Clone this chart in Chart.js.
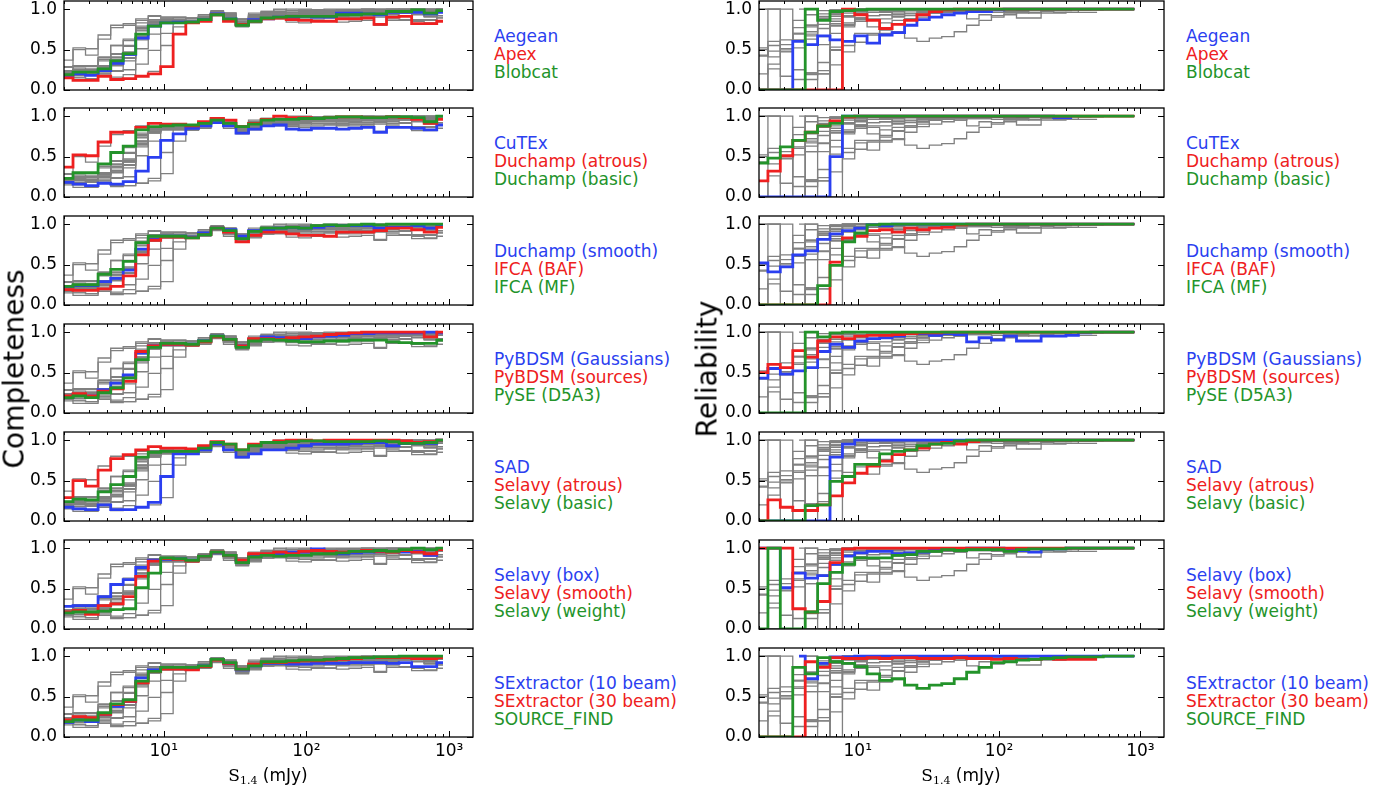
<!DOCTYPE html>
<html>
<head>
<meta charset="utf-8">
<script src="https://cdn.jsdelivr.net/npm/chart.js@4.4.1/dist/chart.umd.min.js"></script>
<style>
  body { margin: 0; background: #fff; width: 1377px; height: 789px; overflow: hidden; position: relative; font-family: "DejaVu Sans", sans-serif; }
  canvas { position: absolute; }
  .lab { position: absolute; font-size: 17px; line-height: 18px; white-space: nowrap; }
  .ytitle { position: absolute; font-size: 28px; white-space: nowrap; transform: translate(-50%, -50%) rotate(-90deg); }
  .xtitle { position: absolute; font-size: 17px; white-space: nowrap; transform: translate(-50%, -50%); }
  .xtitle .s { font-family: "DejaVu Serif", "Liberation Serif", serif; font-size: 17px; }
  .xtitle sub { font-family: "DejaVu Serif", "Liberation Serif", serif; font-size: 11px; vertical-align: -3px; }
</style>
</head>
<body>
<script>
// flux bin centres (mJy), log spaced
const BIN_CENTRES = [2.09, 2.56, 3.13, 3.84, 4.70, 5.75, 7.04, 8.62, 10.5, 12.9, 15.8, 19.4, 23.7, 29.0, 35.5,
  43.5, 53.3, 65.2, 79.8, 97.8, 120, 147, 179, 220, 269, 329, 403, 494, 604, 740, 906];

const FINDERS = ['Aegean', 'Apex', 'Blobcat', 'CuTEx', 'Duchamp (atrous)', 'Duchamp (basic)', 'Duchamp (smooth)',
  'IFCA (BAF)', 'IFCA (MF)', 'PyBDSM (Gaussians)', 'PyBDSM (sources)', 'PySE (D5A3)', 'SAD', 'Selavy (atrous)',
  'Selavy (basic)', 'Selavy (box)', 'Selavy (smooth)', 'Selavy (weight)', 'SExtractor (10 beam)',
  'SExtractor (30 beam)', 'SOURCE_FIND'];

// completeness per finder, one value per bin
const COMPLETENESS = [
  [0.18,0.20,0.18,0.24,0.33, 0.44,0.64,0.79,0.83,0.84, 0.84,0.87,0.94,0.88,0.81, 0.87,0.88,0.90,0.90,0.91, 0.90,0.90,0.95,0.95,0.94, 0.93,0.96,0.96,0.96,0.94, 0.96],
  [0.15,0.12,0.12,0.17,0.13, 0.14,0.17,0.20,0.29,0.69, 0.83,0.85,0.93,0.85,0.81, 0.85,0.88,0.89,0.87,0.86, 0.85,0.85,0.88,0.88,0.89, 0.81,0.90,0.91,0.82,0.82, 0.85],
  [0.19,0.22,0.22,0.26,0.36, 0.45,0.69,0.79,0.83,0.83, 0.84,0.87,0.93,0.88,0.80, 0.85,0.89,0.90,0.91,0.91, 0.91,0.91,0.93,0.93,0.94, 0.94,0.97,0.97,0.99,0.95, 0.98],
  [0.18,0.16,0.14,0.17,0.16, 0.19,0.32,0.49,0.70,0.78, 0.85,0.88,0.92,0.88,0.79, 0.84,0.88,0.89,0.84,0.83, 0.85,0.85,0.84,0.85,0.86, 0.80,0.86,0.86,0.85,0.83, 0.89],
  [0.37,0.52,0.51,0.68,0.80, 0.80,0.86,0.91,0.90,0.90, 0.88,0.93,0.97,0.95,0.87, 0.91,0.96,1.00,0.98,0.98, 0.97,0.98,0.99,0.99,0.98, 0.98,0.99,0.98,0.96,0.91, 0.96],
  [0.23,0.30,0.30,0.41,0.55, 0.63,0.83,0.87,0.88,0.89, 0.89,0.91,0.95,0.91,0.87, 0.90,0.95,0.96,0.96,0.97, 0.97,0.98,0.99,0.99,0.98, 0.98,0.99,0.99,0.98,0.93, 1.00],
  [0.23,0.24,0.24,0.29,0.33, 0.43,0.69,0.81,0.85,0.85, 0.84,0.89,0.95,0.93,0.85, 0.92,0.93,0.95,0.96,0.95, 0.96,0.98,0.98,0.98,0.98, 0.95,0.96,0.96,0.98,0.95, 0.98],
  [0.19,0.18,0.18,0.20,0.23, 0.36,0.62,0.80,0.84,0.84, 0.83,0.87,0.95,0.90,0.78, 0.86,0.90,0.90,0.88,0.86, 0.86,0.85,0.90,0.90,0.90, 0.92,0.95,0.95,0.93,0.90, 0.96],
  [0.23,0.25,0.25,0.38,0.44, 0.54,0.77,0.85,0.85,0.85, 0.83,0.87,0.95,0.92,0.82, 0.91,0.95,0.95,0.96,0.95, 0.98,0.99,0.98,0.99,1.00, 0.99,1.00,1.00,1.00,1.00, 1.00],
  [0.19,0.23,0.21,0.29,0.37, 0.47,0.74,0.83,0.85,0.85, 0.85,0.89,0.95,0.91,0.83, 0.91,0.94,0.93,0.92,0.92, 0.94,0.95,0.96,0.98,0.98, 0.99,0.99,0.99,0.99,1.00, 0.99],
  [0.21,0.24,0.21,0.27,0.30, 0.39,0.76,0.83,0.85,0.85, 0.84,0.88,0.94,0.91,0.83, 0.92,0.92,0.91,0.93,0.94, 0.95,0.97,0.98,0.99,1.00, 1.00,1.00,1.00,1.00,0.94, 1.00],
  [0.19,0.21,0.19,0.25,0.31, 0.43,0.66,0.81,0.86,0.86, 0.85,0.89,0.95,0.91,0.81, 0.89,0.91,0.90,0.89,0.88, 0.88,0.89,0.89,0.90,0.90, 0.90,0.88,0.87,0.86,0.86, 0.90],
  [0.17,0.15,0.14,0.20,0.14, 0.14,0.17,0.23,0.55,0.83, 0.83,0.88,0.95,0.88,0.79, 0.83,0.88,0.88,0.90,0.93, 0.95,0.95,0.95,0.96,0.97, 0.97,0.93,0.96,0.96,0.96, 1.00],
  [0.29,0.50,0.43,0.63,0.77, 0.82,0.88,0.92,0.90,0.90, 0.89,0.93,0.98,0.95,0.88, 0.95,0.97,0.99,1.00,1.00, 0.99,1.00,1.00,1.00,1.00, 1.00,1.00,0.99,0.97,0.98, 1.00],
  [0.24,0.27,0.26,0.36,0.45, 0.55,0.79,0.85,0.86,0.86, 0.86,0.90,0.97,0.95,0.88, 0.93,0.97,0.97,0.98,0.99, 0.99,0.98,0.98,0.98,0.98, 0.99,0.98,0.96,0.96,0.97, 1.00],
  [0.28,0.29,0.29,0.40,0.55, 0.61,0.76,0.85,0.86,0.87, 0.85,0.90,0.94,0.91,0.84, 0.90,0.92,0.93,0.95,0.95, 0.99,0.96,0.93,0.94,0.95, 0.96,0.96,0.95,0.96,0.91, 0.98],
  [0.21,0.23,0.18,0.29,0.31, 0.40,0.65,0.84,0.87,0.86, 0.84,0.90,0.95,0.91,0.85, 0.93,0.93,0.95,0.93,0.96, 0.97,0.96,0.95,0.96,0.97, 0.96,0.95,0.97,0.95,0.93, 0.98],
  [0.20,0.21,0.21,0.22,0.24, 0.25,0.51,0.69,0.88,0.87, 0.85,0.90,0.95,0.91,0.82, 0.89,0.91,0.90,0.91,0.91, 0.93,0.93,0.94,0.96,0.96, 0.97,0.96,0.98,1.00,0.98, 1.00],
  [0.18,0.21,0.19,0.28,0.38, 0.44,0.73,0.83,0.86,0.86, 0.85,0.88,0.96,0.91,0.83, 0.88,0.91,0.91,0.90,0.90, 0.91,0.91,0.91,0.92,0.92, 0.92,0.91,0.92,0.87,0.87, 0.92],
  [0.21,0.25,0.24,0.28,0.40, 0.44,0.67,0.81,0.84,0.84, 0.83,0.87,0.95,0.91,0.84, 0.90,0.92,0.92,0.93,0.94, 0.94,0.95,0.96,0.97,0.98, 0.98,0.98,0.98,0.97,0.97, 0.98],
  [0.19,0.21,0.21,0.30,0.41, 0.46,0.69,0.81,0.86,0.86, 0.86,0.88,0.96,0.92,0.84, 0.88,0.93,0.93,0.94,0.95, 0.95,0.96,0.97,0.98,0.98, 0.99,0.99,1.00,1.00,1.00, 1.00]
];

// reliability per finder, null where a finder has no sources in the bin
const RELIABILITY = [
  [0,0,0,0.60,0.56, 0.67,0.62,0.60,0.67,0.58, 0.68,0.71,0.80,0.87,0.90, 0.93,0.95,0.97,0.97,0.99, 1,1,1,1,1, 1,1,1,1,1, 1],
  [0,0,0,0,0, 0,0,1.00,0.93,0.86, 0.76,0.81,0.86,0.93,0.97, 0.99,1,1,1,1, 1,1,1,1,1, 1,1,1,1,1, 1],
  [0,0,0,0,1.00, 0.86,0.97,0.98,0.99,1, 1,1,1,1,1, 1,1,1,1,1, 1,1,1,1,1, 1,1,1,1,1, 1],
  [0,0,0,0,0, 0,0.50,1.00,1,1, 1,1,1,1,1, 1,1,1,1,1, 1,1,1,1,0.98, 0.98,null,null,null,null, null],
  [0.20,0.32,0.51,0.70,0.80, 0.88,0.94,0.99,1,1, 1,1,1,1,1, 1,1,1,1,1, 1,1,1,1,1, 1,1,1,1,1, 1],
  [0.42,0.48,0.62,0.70,0.80, 0.88,0.91,1,1,1, 1,1,1,1,1, 1,1,1,1,1, 1,1,1,1,1, 1,1,1,1,1, 1],
  [0.52,0.41,0.47,0.62,0.67, 0.81,0.88,0.92,0.95,0.99, 0.98,1,1,1,1, 1,1,1,1,1, 1,1,1,1,1, 1,1,1,1,1, 1],
  [0,0,0,0,0, 0,0.53,0.83,0.85,0.92, 0.93,0.90,0.95,0.93,0.95, 0.96,0.99,1,1,1, 1,1,1,1,1, 1,1,1,1,1, 1],
  [0,0,0,0,0, 0.24,0.49,0.78,0.89,0.99, 1,1,1,1,1, 1,1,1,1,1, 1,1,1,1,1, 1,1,1,1,1, 1],
  [0.43,0.55,0.48,0.52,0.56, 0.76,0.85,0.81,0.89,0.92, 0.93,0.95,0.98,0.98,0.96, 0.98,0.97,0.88,0.93,0.90, 0.95,0.89,0.89,0.95,0.95, 0.96,0.99,1,1,1, 1],
  [0.50,0.60,0.56,0.77,0.69, 0.89,0.94,0.92,0.95,0.96, 0.96,0.97,0.98,0.99,0.99, 1,1,1,1,1, 1,1,1,1,1, 1,1,1,1,1, 1],
  [0,0,0,0,1.00, 0.94,0.99,1,1,1, 1,1,1,1,1, 1,1,1,1,1, 1,1,1,1,1, 1,1,1,1,1, 1],
  [0,0,0,0,0, 0,0.79,0.95,1,1, 1,1,1,1,1, 1,1,1,1,1, 1,1,1,1,1, 1,1,1,1,1, 1],
  [0,0.26,0.17,0.13,0.13, 0.20,0.31,0.47,0.59,0.68, 0.74,0.82,0.88,0.90,0.95, 0.97,0.95,0.98,1,1, 1,1,1,1,1, 1,1,1,1,1, 1],
  [0,0,0,0,0.19, 0.20,0.49,0.55,0.70,0.70, 0.83,0.86,0.88,0.93,0.95, 0.96,0.99,1,1,1, 1,1,1,1,1, 1,1,1,1,1, 1],
  [1,1,0.51,0.69,0.63, 0.66,0.80,0.90,0.94,0.96, 0.96,0.93,0.94,0.95,0.98, 0.99,0.99,1,1,1, 0.99,0.97,0.95,0.99,0.99, 1,1,1,1,1, 1],
  [1,1,1,0.25,0.21, 0.34,0.82,0.99,1,1, 1,1,1,1,1, 1,1,1,1,1, 1,1,1,1,1, 1,1,1,1,1, 1],
  [0,1,0,0,0.21, 0.56,0.70,0.80,0.88,0.88, 0.88,0.91,0.92,0.96,0.96, 0.98,0.97,0.98,0.98,0.98, 0.96,0.98,0.99,0.99,0.99, 1,1,1,1,1, 1],
  [null,null,null,1.00,0.72, 0.91,0.99,0.99,1,1, 1,1,1,1,1, 1,1,1,1,1, 1,1,1,1,1, 1,1,1,1,1, 1],
  [0,0,0,0,0.93, 0.86,0.98,0.97,0.97,0.98, 0.97,0.98,0.98,0.97,0.97, 0.97,0.98,0.97,0.97,0.96, 0.97,0.96,0.96,0.97,0.96, 0.96,0.96,0.96,null,null, null],
  [0,0,0,0.86,0.78, 0.98,0.93,0.91,0.87,0.78, 0.70,0.72,0.64,0.60,0.64, 0.66,0.72,0.80,0.86,0.92, 0.93,0.95,0.96,0.97,0.98, 0.99,0.99,0.99,1,1, 1]
];

// three highlighted finders per row of panels
const PANELS = [[0, 1, 2], [3, 4, 5], [6, 7, 8], [9, 10, 11], [12, 13, 14], [15, 16, 17], [18, 19, 20]];
const HIGHLIGHT_COLOURS = ['#2b3ff0', '#ee2020', '#23932a'];
const GREY = '#808080';

const X_TICKS = [10, 100, 1000];
const X_TICK_LABELS = ['10¹', '10²', '10³'];
const Y_TICKS = [0, 0.5, 1.0];
const X_MIN = 2.0, X_MAX = 1470;

const MAJOR = 6, MINOR = 3;

const frameTicks = {
  id: 'frameTicks',
  afterDraw(chart) {
    const { ctx, chartArea: a } = chart;
    const x = chart.scales.x, y = chart.scales.y;
    ctx.save();
    ctx.strokeStyle = '#000';
    ctx.lineWidth = 1;
    ctx.beginPath();
    const xt = (v, len) => {
      const px = Math.round(x.getPixelForValue(v)) + 0.5;
      if (px <= a.left || px >= a.right) return;
      ctx.moveTo(px, a.bottom); ctx.lineTo(px, a.bottom - len);
      ctx.moveTo(px, a.top); ctx.lineTo(px, a.top + len);
    };
    X_TICKS.forEach(v => xt(v, MAJOR));
    [1, 10, 100].forEach(d => { for (let m = 2; m < 10; m++) xt(m * d, MINOR); });
    Y_TICKS.forEach(v => {
      const py = Math.round(y.getPixelForValue(v)) + 0.5;
      ctx.moveTo(a.left, py); ctx.lineTo(a.left + MAJOR, py);
      ctx.moveTo(a.right, py); ctx.lineTo(a.right - MAJOR, py);
    });
    ctx.stroke();
    ctx.lineWidth = 1.3;
    ctx.strokeRect(a.left, a.top, a.right - a.left, a.bottom - a.top);
    ctx.restore();
  }
};

const FONT = { family: 'DejaVu Sans', size: 17 };

function makePanel(values, highlight, left, plotTop, padRight, isBottom) {
  const canvas = document.createElement('canvas');
  const bottomSpace = isBottom ? 44 : 5;
  const w = 480, h = 6 + 89 + bottomSpace;
  canvas.width = w; canvas.height = h;
  canvas.style.left = left + 'px';
  canvas.style.top = (plotTop - 6) + 'px';
  canvas.style.width = w + 'px'; canvas.style.height = h + 'px';
  document.body.appendChild(canvas);

  const datasets = values.map((vals, i) => {
    const hi = highlight.indexOf(i);
    const pts = [{ x: X_MIN, y: vals[0] }].concat(BIN_CENTRES.map((c, k) => ({ x: c, y: vals[k] })));
    return {
      label: FINDERS[i],
      data: pts,
      borderColor: hi < 0 ? GREY : HIGHLIGHT_COLOURS[hi],
      borderWidth: hi < 0 ? 1.3 : 2.8,
      order: hi < 0 ? 10 : 2 - hi,
      stepped: 'middle',
      pointRadius: 0,
      fill: false,
      spanGaps: false,
      clip: 0
    };
  });

  new Chart(canvas, {
    type: 'line',
    data: { datasets },
    options: {
      responsive: false,
      animation: false,
      events: [],
      parsing: false,
      layout: { padding: { top: 6, right: padRight, bottom: 0, left: 0 } },
      plugins: { legend: { display: false }, tooltip: { enabled: false } },
      scales: {
        x: {
          type: 'logarithmic', min: X_MIN, max: X_MAX,
          grid: { display: false, drawTicks: false }, border: { display: false },
          afterBuildTicks: s => { s.ticks = X_TICKS.map(v => ({ value: v })); },
          ticks: {
            display: isBottom, font: FONT, color: '#000', padding: 4,
            maxRotation: 0, autoSkip: false,
            callback: v => X_TICK_LABELS[X_TICKS.indexOf(v)]
          },
          afterFit: s => { s.height = bottomSpace; s.paddingLeft = 0; s.paddingRight = 0; }
        },
        y: {
          min: 0, max: 1.1,
          grid: { display: false, drawTicks: false }, border: { display: false },
          afterBuildTicks: s => { s.ticks = Y_TICKS.map(v => ({ value: v })); },
          ticks: { font: FONT, color: '#000', padding: 7, callback: v => v.toFixed(1) },
          afterFit: s => { s.width = 64; s.paddingTop = 0; s.paddingBottom = 0; }
        }
      }
    },
    plugins: [frameTicks]
  });
}

function addText(cls, html, left, top, colour) {
  const d = document.createElement('div');
  d.className = cls;
  d.innerHTML = html;
  d.style.left = left + 'px';
  d.style.top = top + 'px';
  if (colour) d.style.color = colour;
  document.body.appendChild(d);
}

PANELS.forEach((hl, p) => {
  const plotTop = Math.round(0.5 + 107.9 * p);
  const isBottom = p === PANELS.length - 1;
  makePanel(COMPLETENESS, hl, 0, plotTop, 7, isBottom);
  makePanel(RELIABILITY, hl, 695, plotTop, 11, isBottom);
  hl.forEach((f, j) => {
    addText('lab', FINDERS[f], 494, plotTop + 26 + 18 * j, HIGHLIGHT_COLOURS[j]);
    addText('lab', FINDERS[f], 1186, plotTop + 26 + 18 * j, HIGHLIGHT_COLOURS[j]);
  });
});

addText('ytitle', 'Completeness', 14, 369);
addText('ytitle', 'Reliability', 707, 369);
addText('xtitle', '<span class="s">S</span><sub>1.4</sub> (mJy)', 268, 776);
addText('xtitle', '<span class="s">S</span><sub>1.4</sub> (mJy)', 961, 776);
</script>
</body>
</html>
